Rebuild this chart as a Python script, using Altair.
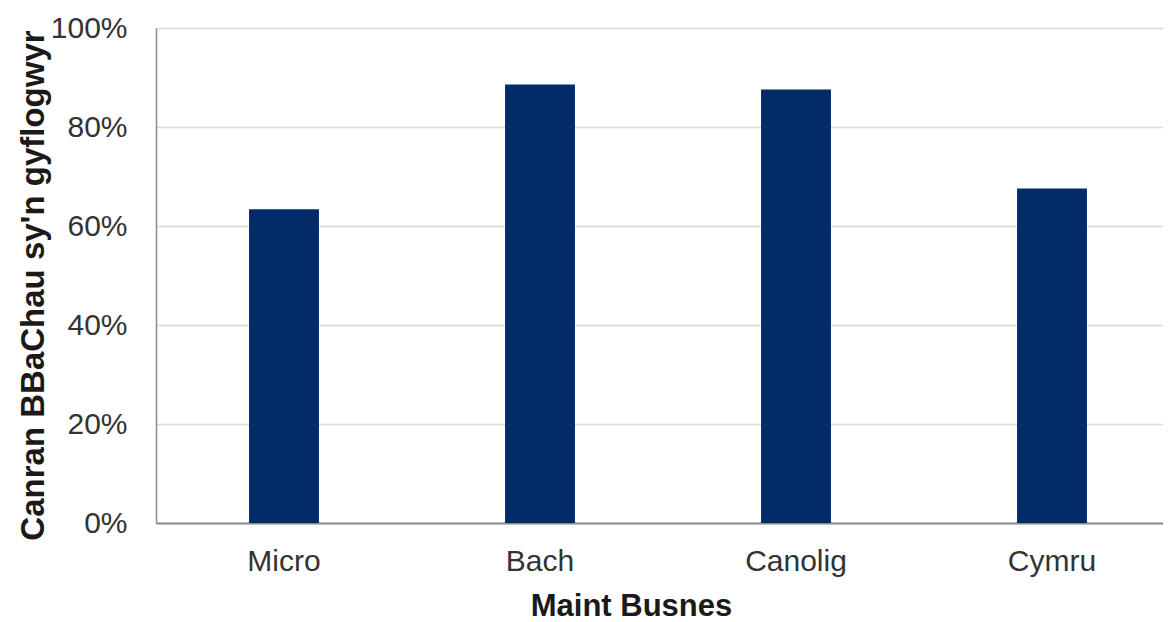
import altair as alt
import pandas as pd

categories = ["Micro", "Bach", "Canolig", "Cymru"]
values = [0.634, 0.886, 0.876, 0.676]
y_ticks = [0, 0.2, 0.4, 0.6, 0.8, 1.0]

df = pd.DataFrame({"cat": categories, "val": values})

FONT = "Liberation Sans"

chart = alt.Chart(df).mark_bar(color="#002b67").encode(
    x=alt.X(
        "cat:N",
        sort=categories,
        scale=alt.Scale(paddingInner=0.727, paddingOuter=0.3635, range=[0, 1024]),
        axis=alt.Axis(
            title="Maint Busnes",
            labelAngle=0,
            ticks=False,
            labelPadding=47,
            labelBaseline="alphabetic",
            labelFontSize=30,
            labelColor="#333333",
            labelFont=FONT,
            domainColor="#8c8c8c",
            domainWidth=2,
            titleFontSize=31,
            titleFont=FONT,
            titleFontWeight="bold",
            titleColor="#1a1a1a",
            titleX=475,
            titleY=92,
            titleBaseline="alphabetic",
            titleAlign="center",
        ),
    ),
    y=alt.Y(
        "val:Q",
        scale=alt.Scale(domain=[0, 1]),
        axis=alt.Axis(
            title="Canran BBaChau sy'n gyflogwyr",
            values=y_ticks,
            format=".0%",
            ticks=False,
            labelPadding=29,
            labelFontSize=30,
            labelColor="#333333",
            labelFont=FONT,
            domainColor="#8c8c8c",
            domainWidth=1.5,
            gridColor="#d9d9d9",
            gridWidth=1.5,
            titleFontSize=33,
            titleFont=FONT,
            titleFontWeight="bold",
            titleColor="#1a1a1a",
            titleAngle=-90,
            titleX=-123,
            titleY=257,
            titleAlign="center",
            titleBaseline="middle",
        ),
    ),
).properties(
    width=1007,
    height=495,
    autosize=alt.AutoSizeParams(type="none"),
    padding={"left": 148, "top": 20, "right": 0, "bottom": 99},
).configure_view(stroke=None)

chart.save("out.html", embed_options={"renderer": "svg", "actions": False})
